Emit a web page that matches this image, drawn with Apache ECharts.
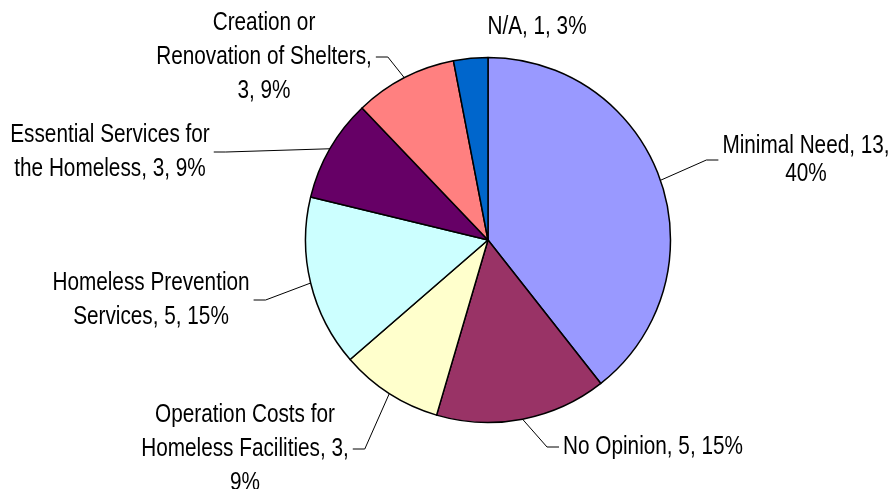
<!DOCTYPE html>
<html><head><meta charset="utf-8">
<script src="https://cdn.jsdelivr.net/npm/echarts@6/dist/echarts.min.js"></script>
<style>html,body{margin:0;padding:0;background:#fff}#c{width:892px;height:489px}</style>
</head><body><div id="c"></div>
<script>
// ---- data ----
const categories = ['Minimal Need', 'No Opinion', 'Operation Costs for Homeless Facilities', 'Homeless Prevention Services', 'Essential Services for the Homeless', 'Creation or Renovation of Shelters', 'N/A'];
const values = [13, 5, 3, 5, 3, 3, 1];
const colors = ['#9999FF', '#993366', '#FFFFCC', '#CCFFFF', '#660066', '#FF8080', '#0066CC'];

// ---- layout (not data) ----
const wordsPerLine = [[3, 1], [4], [3, 3, 1], [2, 3], [3, 4], [2, 3, 2], [3]];
const labelPos = [[806, 160], [653, 447], [245, 449], [151, 300], [110, 152], [264, 57], [537, 27]];
const lineHeights = [28, 34, 34, 34, 34, 34, 34];
const CX = 488, CY = 240, R = 182.5;
const FONT = "'Liberation Sans', Arial, sans-serif";
const SX = 0.83; // horizontal condensing to mimic Arial Narrow

const chart = echarts.init(document.getElementById('c'), null, { renderer: 'canvas' });

const data = categories.map((name, i) => ({
  name, value: values[i],
  itemStyle: { color: colors[i] },
  label: { lineHeight: lineHeights[i] },
  labelLine: { show: name !== 'N/A' }
}));

const total = values.reduce((a, b) => a + b, 0);

chart.setOption({
  animation: false,
  backgroundColor: '#ffffff',
  series: [{
    type: 'pie',
    center: [CX, CY],
    radius: R,
    startAngle: 90,
    clockwise: true,
    avoidLabelOverlap: false,
    silent: true,
    data,
    itemStyle: { borderColor: '#000', borderWidth: 1.5 },
    label: {
      show: true,
      position: 'outside',
      color: '#000',
      fontFamily: FONT,
      fontSize: 25,
      formatter: p => {
        const words = (p.name + ', ' + p.value + ', ' + p.percent + '%').split(' ');
        const lines = []; let k = 0;
        for (const n of wordsPerLine[p.dataIndex]) { lines.push(words.slice(k, k + n).join(' ')); k += n; }
        return lines.join('\n');
      }
    },
    percentPrecision: 0,
    labelLine: { show: true, length: 10, length2: 10, lineStyle: { color: '#000', width: 1 } },
    labelLayout: params => {
      const i = params.dataIndex;
      const [x, y] = labelPos[i];
      const w = params.labelRect.width * SX;
      const right = x > CX;
      const endX = right ? x - w / 2 - 4 : x + w / 2 + 4;
      const elbowX = right ? endX - 12 : endX + 12;
      let p0;
      if (params.labelLinePoints && params.labelLinePoints[0]) {
        p0 = params.labelLinePoints[0];
      } else {
        let cum = 0; for (let j = 0; j < i; j++) cum += values[j];
        const a = (cum + values[i] / 2) / total * 2 * Math.PI;
        p0 = [CX + R * Math.sin(a), CY - R * Math.cos(a)];
      }
      return {
        x, y, align: 'center', verticalAlign: 'middle',
        labelLinePoints: [p0, [elbowX, y], [endX, y]]
      };
    }
  }]
});

// condense label text horizontally (Arial Narrow look)
const zr = chart.getZr();
zr.storage.getRoots().forEach(root => {
  const visit = el => {
    const t = el.getTextContent && el.getTextContent();
    if (t) { t.scaleX = SX; t.scaleY = 1; t.markRedraw(); }
  };
  visit(root);
  if (root.traverse) root.traverse(visit);
});
zr.refreshImmediately();
</script>
</body></html>
